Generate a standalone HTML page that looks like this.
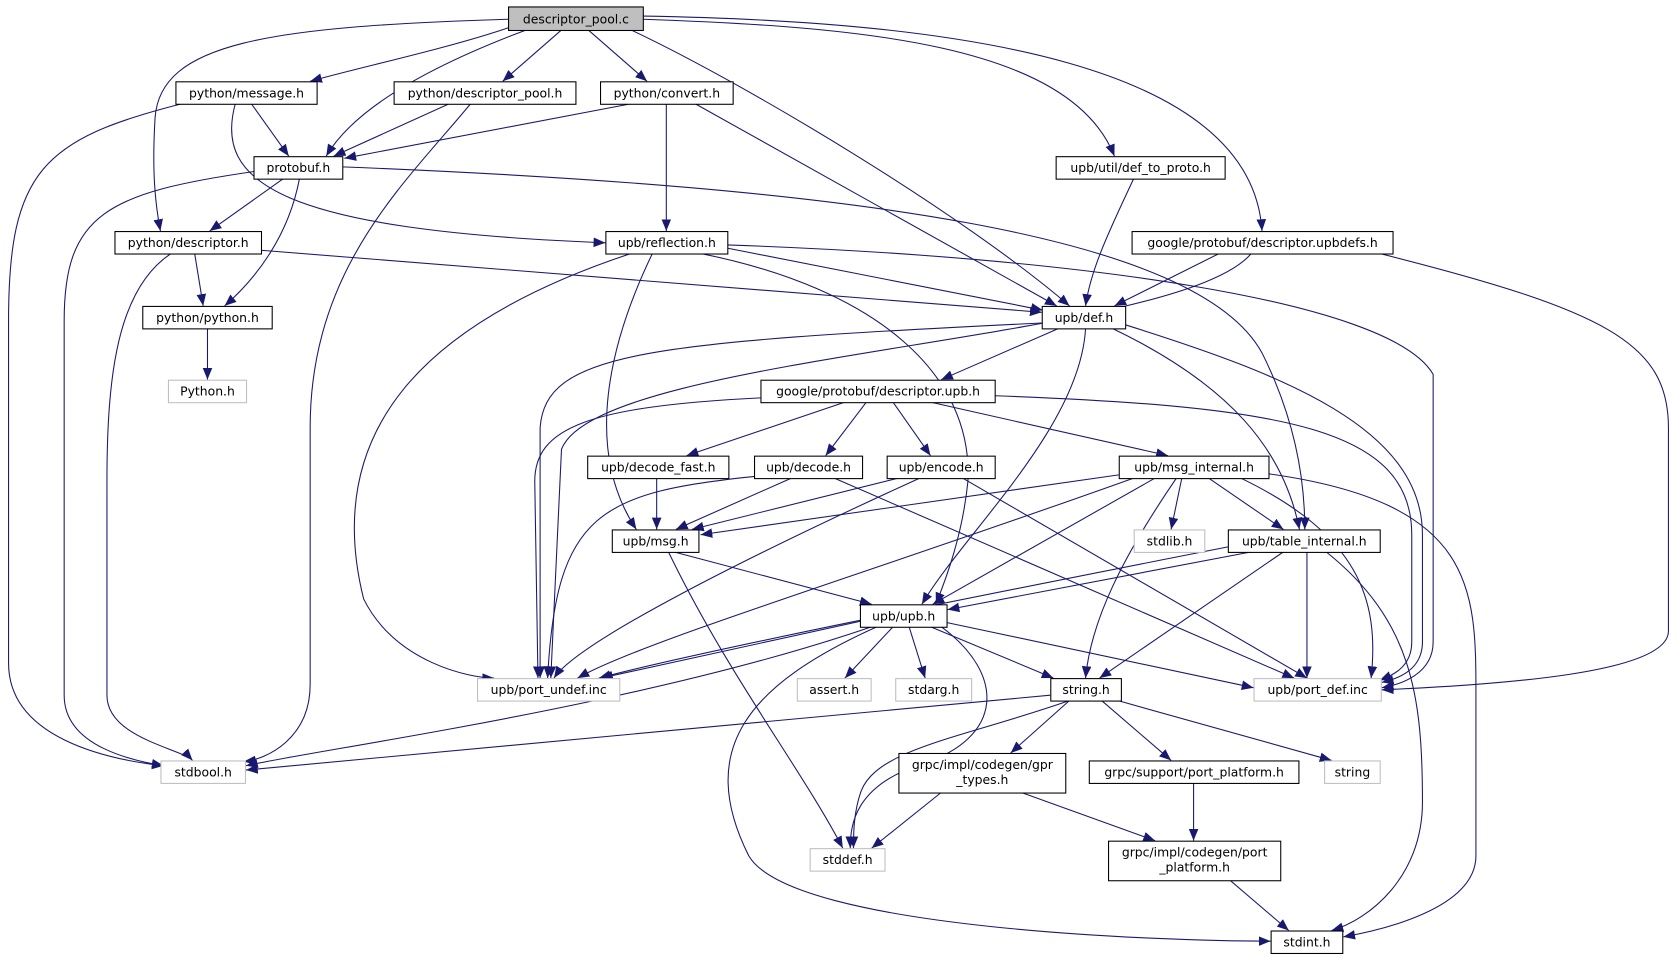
<!DOCTYPE html>
<html><head><meta charset="utf-8"><style>
html,body{margin:0;padding:0;background:#fff;}
svg{display:block;}
text{font-family:"DejaVu Sans","Liberation Sans",sans-serif;font-size:11.6px;fill:#000;text-anchor:middle;}
.n{fill:#fff;stroke:#000;stroke-width:1;}
.g{fill:#fff;stroke:#bfbfbf;stroke-width:1;}
.e{fill:none;stroke:#191970;stroke-width:1;marker-end:url(#a);}
</style></head><body>
<svg width="1677" height="963" viewBox="0 0 1568 900.4" xmlns="http://www.w3.org/2000/svg">
<defs><marker id="a" markerUnits="userSpaceOnUse" markerWidth="12" markerHeight="10" refX="11" refY="4.5" orient="auto"><path d="M0,0 L11,4.5 L0,9 z" fill="#191970"/></marker></defs>
<g>
<path class="e" d="M478,25 C420,45 340,62 290,76"/>
<path class="e" d="M492,28 C420,55 335,95 305,146"/>
<path class="e" d="M475,18 C250,25 150,40 145,110 C142,160 145,190 150,216"/>
<path class="e" d="M525,28 L470,76"/>
<path class="e" d="M550,28 L605,76"/>
<path class="e" d="M590,28 C700,80 900,200 1000,286"/>
<path class="e" d="M601,18 C800,25 1000,40 1042,146"/>
<path class="e" d="M601,15 C900,20 1170,60 1180,216"/>
<path class="e" d="M235,97 L270,146"/>
<path class="e" d="M170,97 C40,130 8,160 8,300 L8,620 C8,690 100,710 153,716"/>
<path class="e" d="M220,97 C200,170 260,215 566,227"/>
<path class="e" d="M420,97 L312,146"/>
<path class="e" d="M440,97 C380,170 290,250 290,400 L290,640 C290,690 250,710 228,712"/>
<path class="e" d="M590,97 L322,148"/>
<path class="e" d="M623,97 L623,216"/>
<path class="e" d="M650,97 L988,286"/>
<path class="e" d="M265,167 L196,216"/>
<path class="e" d="M280,167 C270,220 240,260 210,286"/>
<path class="e" d="M240,160 C100,180 60,200 60,300 L60,650 C60,700 130,712 153,716"/>
<path class="e" d="M320,156 C800,175 1120,220 1180,330 C1215,400 1220,460 1220,495"/>
<path class="e" d="M1060,167 C1040,210 1020,250 1015,286"/>
<path class="e" d="M182,237 L190,286"/>
<path class="e" d="M160,237 C110,270 100,350 100,450 L100,650 C100,690 170,700 180,711"/>
<path class="e" d="M244,234 L974,292"/>
<path class="e" d="M680,232 L975,290"/>
<path class="e" d="M680,229 C1000,240 1300,280 1340,350 L1340,600 C1340,630 1310,640 1292,643"/>
<path class="e" d="M610,237 C570,320 545,420 595,495"/>
<path class="e" d="M590,237 C400,300 300,400 340,560 C370,620 440,634 462,634"/>
<path class="e" d="M655,237 C820,270 910,350 905,450 C900,500 885,540 875,565"/>
<path class="e" d="M1140,237 L1042,286"/>
<path class="e" d="M1170,237 C1100,320 560,330 525,420 L515,634"/>
<path class="e" d="M1290,237 C1500,290 1560,320 1560,400 L1560,590 C1560,630 1400,640 1292,645"/>
<path class="e" d="M194,307 L194,355"/>
<path class="e" d="M990,307 L880,355"/>
<path class="e" d="M974,302 C600,320 510,330 505,400 L505,634"/>
<path class="e" d="M1015,307 C1010,400 900,500 862,565"/>
<path class="e" d="M1040,307 C1150,360 1200,420 1215,495"/>
<path class="e" d="M1050,303 C1200,350 1330,400 1330,500 L1330,600 C1330,625 1310,634 1292,638"/>
<path class="e" d="M790,376 L642,426"/>
<path class="e" d="M810,376 L772,426"/>
<path class="e" d="M835,376 L870,426"/>
<path class="e" d="M870,376 L1092,426"/>
<path class="e" d="M711,372 C550,380 500,400 500,450 L503,634"/>
<path class="e" d="M930,370 C1200,380 1320,400 1320,500 L1320,600 C1320,625 1300,632 1290,636"/>
<path class="e" d="M614,447 L614,495"/>
<path class="e" d="M740,447 L632,495"/>
<path class="e" d="M710,445 C560,460 520,480 512,634"/>
<path class="e" d="M780,447 L1210,634"/>
<path class="e" d="M840,447 L647,495"/>
<path class="e" d="M860,447 C700,520 540,600 518,634"/>
<path class="e" d="M900,447 L1222,634"/>
<path class="e" d="M1046,444 L655,500"/>
<path class="e" d="M1105,447 L1095,495"/>
<path class="e" d="M1130,447 L1200,495"/>
<path class="e" d="M1080,447 L872,565"/>
<path class="e" d="M1060,447 C800,540 600,600 540,634"/>
<path class="e" d="M1100,447 C1050,520 1020,580 1015,634"/>
<path class="e" d="M1160,447 C1270,500 1290,560 1282,634"/>
<path class="e" d="M1186,443 C1380,470 1380,550 1380,650 L1380,800 C1380,850 1290,870 1256,876"/>
<path class="e" d="M630,516 L815,565"/>
<path class="e" d="M625,516 C680,630 750,720 788,793"/>
<path class="e" d="M1170,516 L886,570"/>
<path class="e" d="M1150,511 C900,560 650,610 560,634"/>
<path class="e" d="M1200,516 L1028,634"/>
<path class="e" d="M1222,516 L1222,634"/>
<path class="e" d="M1240,516 C1320,580 1330,650 1330,750 C1330,820 1280,860 1245,870"/>
<path class="e" d="M804,581 L562,634"/>
<path class="e" d="M835,586 L790,634"/>
<path class="e" d="M850,586 L865,634"/>
<path class="e" d="M870,586 L985,634"/>
<path class="e" d="M885,582 L1172,643"/>
<path class="e" d="M815,586 C600,660 300,700 230,716"/>
<path class="e" d="M880,586 C940,630 940,690 860,715 C800,735 795,770 795,793"/>
<path class="e" d="M820,586 C700,640 650,700 700,800 C740,870 1100,880 1188,880"/>
<path class="e" d="M982,650 L230,720"/>
<path class="e" d="M1000,655 C900,690 820,700 805,740 C798,760 798,780 798,793"/>
<path class="e" d="M1000,655 L945,704"/>
<path class="e" d="M1030,655 L1095,711"/>
<path class="e" d="M1045,655 L1245,711"/>
<path class="e" d="M880,741 L815,793"/>
<path class="e" d="M955,741 L1080,786"/>
<path class="e" d="M1116,732 L1116,786"/>
<path class="e" d="M1150,823 L1205,870"/>
</g>
<g>
<rect x="475.5" y="6.5" width="126" height="22" fill="#bfbfbf" stroke="#000"/><text x="538.5" y="22">descriptor_pool.c</text>
<rect class="n" x="164.5" y="76.5" width="132" height="21"/><text x="230.5" y="91">python/message.h</text>
<rect class="n" x="368.5" y="76.5" width="170" height="21"/><text x="453.5" y="91">python/descriptor_pool.h</text>
<rect class="n" x="561.5" y="76.5" width="124" height="21"/><text x="623.5" y="91">python/convert.h</text>
<rect class="n" x="237.5" y="146.5" width="83" height="21"/><text x="279" y="161">protobuf.h</text>
<rect class="n" x="987.5" y="146.5" width="158" height="21"/><text x="1066.5" y="161">upb/util/def_to_proto.h</text>
<rect class="n" x="107.5" y="216.5" width="137" height="21"/><text x="176" y="231">python/descriptor.h</text>
<rect class="n" x="566.5" y="216.5" width="114" height="21"/><text x="623.5" y="231">upb/reflection.h</text>
<rect class="n" x="1058.5" y="216.5" width="244" height="21"/><text x="1180.5" y="231">google/protobuf/descriptor.upbdefs.h</text>
<rect class="n" x="133.5" y="286.5" width="121" height="21"/><text x="194" y="301">python/python.h</text>
<rect class="n" x="974.5" y="286.5" width="78" height="21"/><text x="1013.5" y="301">upb/def.h</text>
<rect class="g" x="157.5" y="355.5" width="73" height="21"/><text x="194" y="370">Python.h</text>
<rect class="n" x="711.5" y="355.5" width="219" height="21"/><text x="821" y="370">google/protobuf/descriptor.upb.h</text>
<rect class="n" x="549.5" y="426.5" width="132" height="21"/><text x="615.5" y="441">upb/decode_fast.h</text>
<rect class="n" x="705.5" y="426.5" width="101" height="21"/><text x="756" y="441">upb/decode.h</text>
<rect class="n" x="829.5" y="426.5" width="101" height="21"/><text x="880" y="441">upb/encode.h</text>
<rect class="n" x="1046.5" y="426.5" width="140" height="21"/><text x="1116.5" y="441">upb/msg_internal.h</text>
<rect class="n" x="572.5" y="495.5" width="81" height="21"/><text x="613" y="510">upb/msg.h</text>
<rect class="g" x="1060.5" y="495.5" width="66" height="21"/><text x="1093.5" y="510">stdlib.h</text>
<rect class="n" x="1148.5" y="495.5" width="142" height="21"/><text x="1219.5" y="510">upb/table_internal.h</text>
<rect class="n" x="804.5" y="565.5" width="81" height="21"/><text x="845" y="580">upb/upb.h</text>
<rect class="g" x="446.5" y="634.5" width="133" height="21"/><text x="513" y="649">upb/port_undef.inc</text>
<rect class="g" x="745.5" y="634.5" width="69" height="21"/><text x="780" y="649">assert.h</text>
<rect class="g" x="837.5" y="634.5" width="71" height="21"/><text x="873" y="649">stdarg.h</text>
<rect class="n" x="982.5" y="634.5" width="66" height="21"/><text x="1015.5" y="649">string.h</text>
<rect class="g" x="1172.5" y="634.5" width="119" height="21"/><text x="1232" y="649">upb/port_def.inc</text>
<rect class="g" x="150.5" y="711.5" width="79" height="21"/><text x="190" y="726">stdbool.h</text>
<rect class="n" x="840.5" y="704.5" width="156" height="37"/><text x="918.5" y="719">grpc/impl/codegen/gpr</text><text x="918.5" y="733">_types.h</text>
<rect class="n" x="1018.5" y="711.5" width="196" height="21"/><text x="1116.5" y="726">grpc/support/port_platform.h</text>
<rect class="g" x="1238.5" y="711.5" width="52" height="21"/><text x="1264.5" y="726">string</text>
<rect class="g" x="757.5" y="793.5" width="70" height="21"/><text x="792.5" y="808">stddef.h</text>
<rect class="n" x="1036.5" y="786.5" width="161" height="37"/><text x="1117" y="801">grpc/impl/codegen/port</text><text x="1117" y="815">_platform.h</text>
<rect class="n" x="1188.5" y="870.5" width="67" height="21"/><text x="1222" y="885">stdint.h</text>
</g>
</svg>
</body></html>
